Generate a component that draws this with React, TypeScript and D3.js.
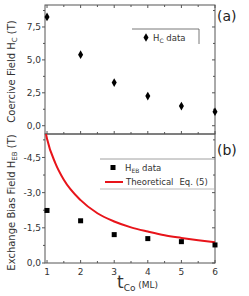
import React from 'react';
import * as d3 from 'd3';

// thickness of Co layer (ML)
const tCo = [1, 2, 3, 4, 5, 6];
// coercive field H_C (T)
const hcData = [8.26, 5.4, 3.28, 2.25, 1.49, 1.06];
// exchange bias field |H_EB| (T), plotted on a reversed (negative) axis
const hebData = [2.24, 1.8, 1.21, 1.04, 0.91, 0.77];
// theoretical Eq. (5) curve
const theoX = [0.97, 1, 1.25, 1.5, 2, 2.5, 3, 3.5, 4, 4.5, 5, 5.5, 6];
const theoY = [5.5, 5.3, 4.25, 3.55, 2.68, 2.12, 1.77, 1.52, 1.34, 1.18, 1.07, 0.97, 0.88];

const xTicks = [1, 2, 3, 4, 5, 6];
const hcTicks = [0, 2.5, 5, 7.5];
const hebTicks = [0, 1.5, 3, 4.5];

const frame = '#555';
const txt = '#333';
const font = '"DejaVu Sans", Verdana, sans-serif';

const fmt = (v: number) => v.toFixed(1).replace('.', ',');

const App = () => {
  const left = 45, right = 215;
  const topA = 5, mid = 134, botB = 263;

  const x = d3.scaleLinear().domain([0.94, 6]).range([left, right]);
  const yA = d3.scaleLinear().domain([-0.63, 9.17]).range([mid, topA]);
  const yB = d3.scaleLinear().domain([0, 5.5]).range([botB, mid]);

  const xMinor = d3.range(1, 6.01, 0.5);
  const hcMinor = d3.range(0, 9.1, 1.25);
  const hebMinor = d3.range(0, 5.5, 0.75);

  const line = d3.line<number>()
    .x((_, i) => x(theoX[i]))
    .y(d => yB(d))
    .curve(d3.curveMonotoneX);

  const diamond = d3.symbol().type(d3.symbolDiamond).size(22)();

  return (
    <svg width={249} height={296} style={{ position: 'absolute', left: 0, top: 0 }}
      fontFamily={font}>
      <rect width={249} height={296} fill="#fff" />

      {/* frames */}
      <rect x={left} y={topA} width={right - left} height={mid - topA} fill="none" stroke={frame} strokeWidth={1} />
      <rect x={left} y={mid} width={right - left} height={botB - mid} fill="none" stroke={frame} strokeWidth={1} />

      {/* top panel ticks */}
      {hcMinor.map(v => {
        const major = hcTicks.includes(v);
        return (
          <g key={'ha' + v}>
            <line x1={left - (major ? 3 : 2)} x2={left} y1={yA(v)} y2={yA(v)} stroke={frame} />
            <line x1={right - (major ? 3 : 2)} x2={right} y1={yA(v)} y2={yA(v)} stroke={frame} />
          </g>
        );
      })}
      {hcTicks.map(v => (
        <text key={'hl' + v} x={left - 4} y={yA(v)} dy="0.35em" textAnchor="end" fontSize={9} fill={txt}>{fmt(v)}</text>
      ))}
      {xMinor.map(v => {
        const major = Number.isInteger(v);
        const l = major ? 3 : 2;
        return (
          <g key={'xa' + v}>
            <line x1={x(v)} x2={x(v)} y1={topA} y2={topA + l} stroke={frame} />
            <line x1={x(v)} x2={x(v)} y1={mid} y2={mid - l} stroke={frame} />
            <line x1={x(v)} x2={x(v)} y1={botB} y2={botB - l} stroke={frame} />
          </g>
        );
      })}

      {/* bottom panel ticks */}
      {hebMinor.map(v => {
        const major = hebTicks.includes(v);
        return (
          <g key={'hb' + v}>
            <line x1={left - (major ? 3 : 2)} x2={left} y1={yB(v)} y2={yB(v)} stroke={frame} />
            <line x1={right - (major ? 3 : 2)} x2={right} y1={yB(v)} y2={yB(v)} stroke={frame} />
          </g>
        );
      })}
      {hebTicks.map(v => (
        <text key={'bl' + v} x={left - 4} y={yB(v)} dy="0.35em" textAnchor="end" fontSize={9} fill={txt}>
          {v === 0 ? fmt(v) : '-' + fmt(v)}
        </text>
      ))}
      {xTicks.map(v => (
        <text key={'xl' + v} x={x(v)} y={botB + 12} textAnchor="middle" fontSize={9} fill={txt}>{v}</text>
      ))}

      {/* top panel data */}
      {tCo.map((t, i) => (
        <path key={'d' + i} d={diamond ?? ''} transform={`translate(${x(t)},${yA(hcData[i])})`} fill="#000" />
      ))}

      {/* bottom panel data */}
      <path d={line(theoY) ?? ''} fill="none" stroke="#e8141a" strokeWidth={2} />
      {tCo.map((t, i) => (
        <rect key={'s' + i} x={x(t) - 2.5} y={yB(hebData[i]) - 2.5} width={5} height={5} fill="#000" />
      ))}

      {/* legend (a) */}
      <line x1={132} x2={199} y1={29} y2={29} stroke={frame} strokeWidth={0.8} />
      <line x1={199} x2={199} y1={29} y2={44} stroke={frame} strokeWidth={0.8} />
      <path d={diamond ?? ''} transform="translate(146,37.5)" fill="#000" />
      <text x={153} y={40.5} fontSize={8.5} fill={txt}>
        H<tspan fontSize={6} dy={2}>C</tspan><tspan dy={-2}> data</tspan>
      </text>

      {/* legend (b) */}
      <line x1={100} x2={215} y1={159} y2={159} stroke="#888" strokeWidth={0.8} />
      <line x1={100} x2={215} y1={189} y2={189} stroke="#aaa" strokeWidth={0.8} />
      <rect x={110.5} y={165} width={5} height={5} fill="#000" />
      <text x={125} y={170.5} fontSize={8.5} fill={txt}>
        H<tspan fontSize={6} dy={2}>EB</tspan><tspan dy={-2}> data</tspan>
      </text>
      <line x1={105} x2={123} y1={182} y2={182} stroke="#e8141a" strokeWidth={2} />
      <text x={126} y={185} fontSize={8.5} fill={txt}>
        Theoretical<tspan dx={6}>Eq. (5)</tspan>
      </text>

      {/* panel labels */}
      <text x={217} y={21} fontSize={14} fill="#222">(a)</text>
      <text x={217} y={155} fontSize={14} fill="#222">(b)</text>

      {/* axis titles */}
      <text transform={`translate(15,${(topA + mid) / 2 + 2}) rotate(-90)`} textAnchor="middle" fontSize={10} fill={txt}>
        Coercive Field H<tspan fontSize={7} dy={2}>C</tspan><tspan dy={-2}> (T)</tspan>
      </text>
      <text transform={`translate(15,${(mid + botB) / 2 + 4}) rotate(-90)`} textAnchor="middle" fontSize={10} fill={txt}>
        Exchange Bias Field H<tspan fontSize={7} dy={2}>EB</tspan><tspan dy={-2}> (T)</tspan>
      </text>
      <text x={117} y={288} fontSize={17} fill={txt}>
        t<tspan fontSize={9} dy={3}>Co</tspan><tspan fontSize={9} dy={-3}> (ML)</tspan>
      </text>
    </svg>
  );
};

export default App;
